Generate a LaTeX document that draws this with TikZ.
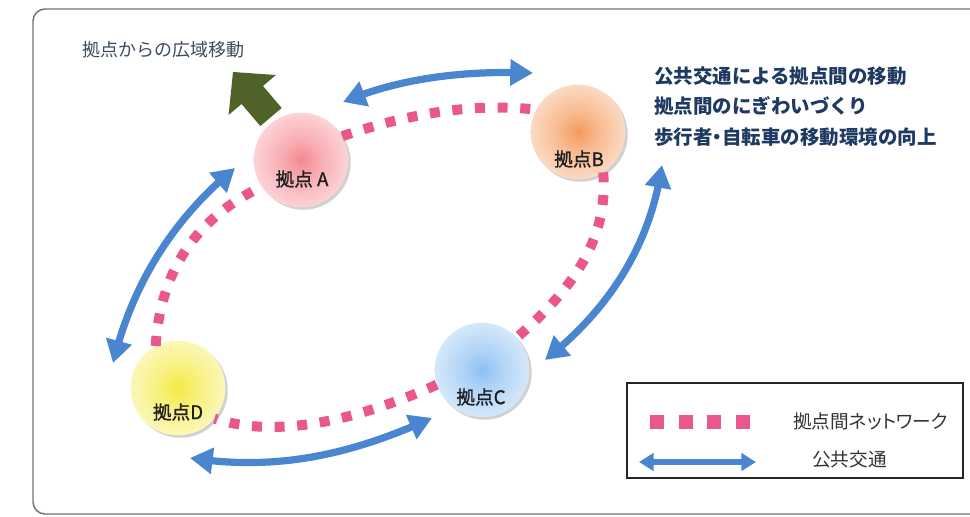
\documentclass[tikz,border=0pt]{standalone}
\usepackage{fontspec}
\setmainfont{Noto Sans CJK JP}
\usetikzlibrary{arrows.meta,shadows,bending}
\definecolor{cA}{HTML}{F58890}
\definecolor{cB}{HTML}{F59A5C}
\definecolor{cC}{HTML}{8CC0F2}
\definecolor{cD}{HTML}{F4EA40}
\definecolor{cPink}{HTML}{E9578C}
\definecolor{cBlue}{HTML}{4A86CF}
\definecolor{cGreen}{HTML}{4F6228}
\definecolor{cNavy}{HTML}{1F3A62}
\definecolor{cGrayText}{HTML}{3B4A5E}
\pgfdeclareradialshading{shA}{\pgfpoint{0bp}{0bp}}{color(0bp)=(cA); color(10bp)=(cA!70!white); color(28bp)=(cA!30!white); color(42bp)=(cA!12!white); color(50bp)=(cA!6!white)}
\pgfdeclareradialshading{shB}{\pgfpoint{0bp}{0bp}}{color(0bp)=(cB); color(10bp)=(cB!70!white); color(28bp)=(cB!30!white); color(42bp)=(cB!12!white); color(50bp)=(cB!6!white)}
\pgfdeclareradialshading{shC}{\pgfpoint{0bp}{0bp}}{color(0bp)=(cC); color(10bp)=(cC!70!white); color(28bp)=(cC!30!white); color(42bp)=(cC!12!white); color(50bp)=(cC!6!white)}
\pgfdeclareradialshading{shD}{\pgfpoint{0bp}{0bp}}{color(0bp)=(cD); color(10bp)=(cD!70!white); color(28bp)=(cD!30!white); color(42bp)=(cD!12!white); color(50bp)=(cD!6!white)}
\tikzset{
  hub/.style={circle, minimum size=71pt, inner sep=0pt, shading=#1,
    drop shadow={shadow xshift=1.8pt, shadow yshift=-1.8pt, opacity=0.3, fill=black!60}},
  hublabel/.style={font=\fontsize{14pt}{16pt}\selectfont\addfontfeature{FakeBold=1.2}, text=black!88, inner sep=0pt},
  pinkdots/.style={draw=cPink, line width=7.5pt, dash pattern=on 7.5pt off 9.5pt},
  bluearrow/.style={draw=cBlue, line width=5.4pt,
    arrows={Triangle[length=17pt,width=19pt]-Triangle[length=17pt,width=19pt]}},
  legarrow/.style={draw=cBlue, line width=4pt,
    arrows={Triangle[length=11pt,width=13pt]-Triangle[length=11pt,width=13pt]}},
  righttext/.style={anchor=west, inner sep=0pt, text=cNavy, font=\fontsize{14.6pt}{17pt}\selectfont\bfseries},
  legtext/.style={anchor=west, inner sep=0pt, text=black!80, font=\fontsize{14pt}{16pt}\selectfont\addfontfeature{RawFeature=+palt}}
}
\begin{document}
\begin{tikzpicture}[x=0.75pt, y=-0.75pt]
\path[use as bounding box] (0,0) rectangle (970,517);
% outer frame
\begin{scope}
\clip (0,0) rectangle (970,517);
\draw[rounded corners=9pt, draw=black!55, line width=1.1pt] (33,9) rectangle (1010,514);
\end{scope}

% title top-left
\node[anchor=west, inner sep=0pt, text=cGrayText, font=\fontsize{13.5pt}{16pt}\selectfont] (wide) at (82,50) {拠点からの広域移動};

% green arrow
\fill[cGreen] (281.7,108) -- (263,86) -- (275.9,75) -- (233,72) -- (228.6,114.9) -- (241.6,104) -- (260.3,126) -- cycle;

% hubs
\node[hub=shA] (A) at (301,160) {};
\node[hub=shB] (B) at (578,132) {};
\node[hub=shC] (C) at (482,370) {};
\node[hub=shD] (D) at (178,388) {};
\node[hublabel] (la) at (302,179) {拠点 A};
\node[hublabel] (lb) at (579,159) {拠点B};
\node[hublabel] (lc) at (481,397) {拠点C};
\node[hublabel] (ld) at (178,412) {拠点D};

% pink network
\draw[pinkdots] (A.30) .. controls (413,112) and (478,103) .. (B.152);
\draw[pinkdots] (B.-58) .. controls (608,233) and (580,283) .. (C.43);
\draw[pinkdots] (C.198) .. controls (346.7,424.7) and (272,437) .. (D.-40);
\draw[pinkdots] (D.118) .. controls (160.7,270) and (196,218.7) .. (A.214);

% public transport arrows
\coordinate (ab1) at (343,102);
\coordinate (ab2) at (533,73);
\coordinate (bc1) at (662,165);
\coordinate (bc2) at (545,360);
\coordinate (cd1) at (432,418);
\coordinate (cd2) at (190,458);
\coordinate (da1) at (113,363);
\coordinate (da2) at (235,168);
\draw[bluearrow] (ab1) .. controls (395.7,79.7) and (459,70) .. (ab2);
\draw[bluearrow] (bc1) .. controls (651,242) and (612,307) .. (bc2);
\draw[bluearrow] (cd1) .. controls (347,456.7) and (273.3,470.7) .. (cd2);
\draw[bluearrow] (da1) .. controls (132.3,284) and (173,219) .. (da2);

% right text
\node[righttext] (t1) at (654,76) {公共交通による拠点間の移動};
\node[righttext] (t2) at (654,106) {拠点間のにぎわいづくり};
\node[righttext] (t3) at (654,137) {歩行者\addfontfeature{RawFeature=+palt}・\addfontfeature{RawFeature=-palt}自転車の移動環境の向上};

% legend
\node[draw=black!85, line width=1.4pt, minimum width=252pt, minimum height=71.5pt, inner sep=0pt] (leg) at (795,430.5) {};
\coordinate (lp1) at (650,422);
\coordinate (lp2) at (752,422);
\draw[draw=cPink, line width=10.5pt, dash pattern=on 10.5pt off 11pt] (lp1) -- (lp2);
\coordinate (lb1) at (639,462);
\coordinate (lb2) at (756,462);
\draw[legarrow] (lb1) -- (lb2);
\node[legtext] (lt1) at (793,421) {拠点間ネットワーク};
\node[legtext] (lt2) at (812,459) {公共交通};
\end{tikzpicture}
\end{document}
